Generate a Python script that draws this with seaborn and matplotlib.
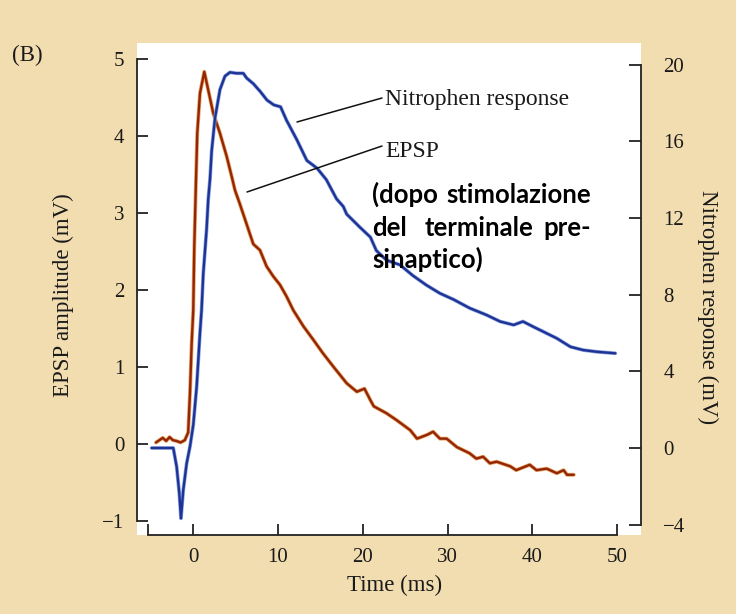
import matplotlib
matplotlib.use("Agg")
import matplotlib.pyplot as plt
import pandas as pd
import seaborn as sns

# ---------------- data ----------------
epsp_time = [-4.4, -4.0, -3.6, -3.2, -2.8, -2.4, -2.0, -1.5, -1.0, -0.6, -0.39, -0.19, 0.0,
             0.12, 0.32, 0.47, 0.79, 1.30, 1.77, 2.36, 3.15, 3.94, 4.53, 4.92, 5.50, 6.29,
             7.08, 7.87, 8.65, 9.44, 10.23, 11.0, 11.8, 13.0, 14.2, 15.3, 16.5, 18.1, 19.3,
             20.2, 20.9, 21.3, 22.8, 24.0, 25.6, 26.4, 27.6, 28.3, 29.1, 29.9, 31.1, 32.6,
             33.4, 34.2, 35.0, 35.8, 37.4, 38.1, 39.7, 40.5, 41.7, 42.9, 43.7, 44.1, 44.9]
epsp_mv = [0.02, 0.05, 0.08, 0.04, 0.09, 0.05, 0.04, 0.02, 0.05, 0.15, 0.66, 1.31, 1.74,
           2.57, 3.43, 4.04, 4.56, 4.84, 4.60, 4.30, 4.04, 3.74, 3.48, 3.30, 3.12, 2.86,
           2.60, 2.52, 2.31, 2.18, 2.07, 1.92, 1.74, 1.53, 1.35, 1.18, 1.01, 0.79, 0.68,
           0.72, 0.57, 0.49, 0.40, 0.31, 0.18, 0.07, 0.12, 0.16, 0.07, 0.07, -0.04, -0.12,
           -0.19, -0.165, -0.25, -0.23, -0.29, -0.34, -0.27, -0.34, -0.32, -0.38, -0.34,
           -0.40, -0.40]

nitro_time = [-4.91, -2.36, -1.96, -1.65, -1.45, -1.18, -0.78, -0.39, 0.0, 0.4, 0.79, 0.98,
              1.18, 1.57, 1.77, 1.97, 2.17, 2.56, 3.15, 3.74, 4.33, 5.1, 5.9, 6.3, 7.1, 7.9,
              8.7, 9.5, 10.3, 11.0, 12.2, 13.4, 14.6, 15.7, 16.9, 17.7, 18.1, 19.7, 20.9,
              21.6, 22.8, 24.4, 25.9, 27.5, 29.1, 30.7, 32.6, 34.6, 36.2, 37.8, 38.9, 40.1,
              41.3, 42.9, 44.5, 46.0, 47.6, 49.8]
nitro_mv = [0.0, 0.0, -0.98, -2.36, -3.67, -2.19, -0.80, 0.07, 1.2, 3.2, 6.0, 7.2,
            9.1, 11.4, 13.0, 14.0, 15.5, 17.2, 18.7, 19.4, 19.6, 19.55, 19.55, 19.3, 19.0, 18.6,
            18.15, 17.9, 17.8, 17.1, 16.1, 15.0, 14.6, 14.0, 13.0, 12.6, 12.2, 11.5, 11.0,
            10.3, 9.8, 9.55, 9.0, 8.5, 8.07, 7.75, 7.3, 6.94, 6.6, 6.42, 6.6, 6.33,
            6.07, 5.72, 5.28, 5.11, 5.02, 4.94]

x_ticks = [0, 10, 20, 30, 40, 50]
left_ticks = [-1, 0, 1, 2, 3, 4, 5]
right_ticks = [-4, 0, 4, 8, 12, 16, 20]

epsp_df = pd.DataFrame({"Time (ms)": epsp_time, "EPSP": epsp_mv})
nitro_df = pd.DataFrame({"Time (ms)": nitro_time, "Nitrophen": nitro_mv})

# ---------------- style ----------------
sns.set_style("ticks")
plt.rcParams['font.family'] = ['Liberation Serif', 'DejaVu Serif']

BG = '#F2DDB1'
W, H = 736, 614

fig = plt.figure(figsize=(W / 100, H / 100), dpi=100, facecolor=BG)
ax = fig.add_axes([137 / W, 1 - 535 / H, (641 - 137) / W, (535 - 43) / H])
ax.set_facecolor('white')
ax2 = ax.twinx()

# EPSP (left axis)
sns.lineplot(data=epsp_df, x="Time (ms)", y="EPSP", ax=ax, color='#E8A865', lw=2.8,
             estimator=None, sort=False, legend=False)
sns.lineplot(data=epsp_df, x="Time (ms)", y="EPSP", ax=ax, color='#932608', lw=1.7,
             estimator=None, sort=False, legend=False)
# Nitrophen (right axis)
sns.lineplot(data=nitro_df, x="Time (ms)", y="Nitrophen", ax=ax2, color='#8FA5DD', lw=2.7,
             estimator=None, sort=False, legend=False)
sns.lineplot(data=nitro_df, x="Time (ms)", y="Nitrophen", ax=ax2, color='#1D3396', lw=1.7,
             estimator=None, sort=False, legend=False)

# limits
ax.set_xlim(-6.64, 52.83)
ax.set_ylim(-1.183, 5.214)
ax2.set_ylim(-4.54, 21.13)

for a in (ax, ax2):
    a.spines['top'].set_visible(False)
    for s in a.spines.values():
        s.set_linewidth(1.3)
        s.set_color('#222222')
ax.spines['right'].set_visible(False)
ax2.spines['left'].set_visible(False)
ax2.spines['bottom'].set_visible(False)
ax.spines['left'].set_bounds(-1, 5)
ax.spines['bottom'].set_bounds(-5.3, 50)
ax2.spines['right'].set_bounds(-4, 20)

ax.set_xticks(x_ticks)
ax.set_xticks([-5.3], minor=True)
ax.set_yticks(left_ticks)
ax2.set_yticks(right_ticks)
ax.set_yticklabels([("\u22121" if v == -1 else str(v)) for v in left_ticks])
ax2.set_yticklabels([("\u2212" + str(-v) if v < 0 else str(v)) for v in right_ticks])

ax.tick_params(axis='x', which='both', direction='in', length=8, width=1.3,
               labelsize=15, pad=9, colors='#222222', labelcolor='#1a1a1a')
ax.tick_params(axis='y', direction='in', length=8, width=1.3, labelsize=15, pad=9,
               colors='#222222', labelcolor='#1a1a1a')
ax2.tick_params(axis='y', direction='in', length=9, width=1.3, labelsize=15, pad=16,
                colors='#222222', labelcolor='#1a1a1a')

ax.set_xlabel('')
ax.set_ylabel('')
ax2.set_ylabel('')


def fx(px):
    return px / W


def fy(py):
    return 1 - py / H


# axis titles
fig.text(fx(395), fy(585), 'Time (ms)', ha='center', va='center', fontsize=16.5, color='#1a1a1a')
fig.text(fx(63), fy(295), 'EPSP amplitude (mV)', ha='center', va='center', rotation=90,
         fontsize=16.5, color='#1a1a1a')
fig.text(fx(708), fy(307), 'Nitrophen response (mV)', ha='center', va='center', rotation=270,
         fontsize=16.5, color='#1a1a1a')
fig.text(fx(12), fy(55), '(B)', ha='left', va='center', fontsize=16.5, color='#1a1a1a')

# callout labels
fig.text(fx(385), fy(105), 'Nitrophen response', ha='left', va='baseline', fontsize=17,
         color='#1a1a1a')
fig.text(fx(385), fy(157), 'EPSP', ha='left', va='baseline', fontsize=17, color='#1a1a1a')
fig.add_artist(plt.Line2D([fx(297), fx(382)], [fy(122), fy(98)], color='#111111', lw=1.1))
fig.add_artist(plt.Line2D([fx(247), fx(382)], [fy(192), fy(146)], color='#111111', lw=1.1))

# bold justified note
bold = dict(fontsize=18.5, fontweight='bold', family=['Lato', 'DejaVu Sans'], color='black',
            va='baseline')
fig.text(fx(372), fy(203), '(dopo', ha='left', **bold)
fig.text(fx(591), fy(203), 'stimolazione', ha='right', **bold)
fig.text(fx(372), fy(236), 'del', ha='left', **bold)
fig.text(fx(479), fy(236), 'terminale', ha='center', **bold)
fig.text(fx(591), fy(236), 'pre-', ha='right', **bold)
fig.text(fx(372), fy(268), 'sinaptico)', ha='left', **bold)

fig.savefig('out.png', dpi=100, facecolor=BG)
